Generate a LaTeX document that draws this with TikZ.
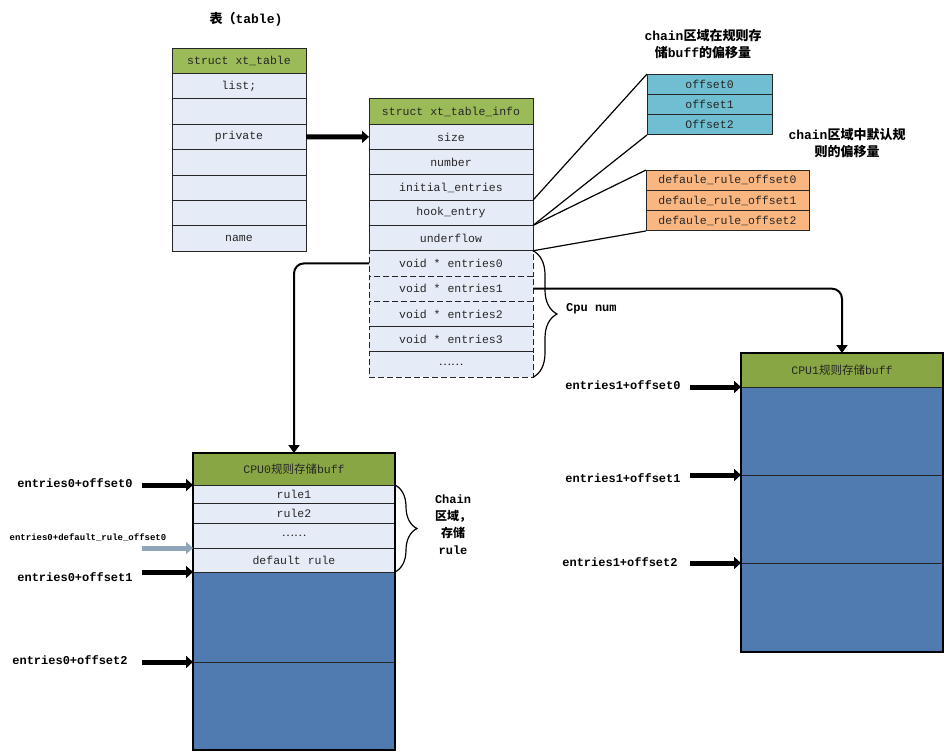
\documentclass[tikz,border=0pt]{standalone}
\usepackage{fontspec}
\setmonofont{Liberation Mono}
\newfontfamily\cjk{Noto Sans CJK SC}
\usepackage{tikz}
\usetikzlibrary{arrows.meta}
\usetikzlibrary{positioning}
\usetikzlibrary{decorations.pathreplacing}
\definecolor{headgreen}{RGB}{155,187,89}
\definecolor{cpugreen}{RGB}{137,166,68}
\definecolor{rowblue}{RGB}{230,236,247}
\definecolor{buffblue}{RGB}{79,123,176}
\definecolor{offblue}{RGB}{112,190,210}
\definecolor{offorange}{RGB}{250,182,128}
\definecolor{tailgray}{RGB}{145,165,188}
\tikzset{cell/.style = {draw = black!85, line width = 1pt, fill = rowblue,
                        inner sep = 0pt, outer sep = 0pt, text = black!85,
                        font = \ttfamily\fontsize{11.5}{12}\selectfont},
         xtrow/.style = {cell, minimum width = 134pt, minimum height = 25.4pt},
         inforow/.style = {cell, minimum width = 164pt, minimum height = 25.3pt},
         cpurow/.style = {cell, minimum width = 202pt},
         buffcell/.style = {cpurow, fill = buffblue},
         offrow/.style = {cell, fill = offblue, minimum width = 125pt, minimum height = 20.3pt},
         ruleoffrow/.style = {cell, fill = offorange, minimum width = 163pt, minimum height = 20.3pt},
         fat/.style = {line width = 5pt, -{Triangle[length = 7pt, width = 12pt]}},
         link/.style = {line width = 2pt, rounded corners = 10pt,
                        -{Triangle[length = 8pt, width = 11pt]}},
         lbl/.style = {inner sep = 0pt, font = \ttfamily\bfseries\fontsize{12}{13}\selectfont},
         title/.style = {inner sep = 0pt, align = center,
                         font = \ttfamily\bfseries\fontsize{13}{17}\selectfont},
         curly/.style = {decorate, decoration = {brace, amplitude = #1}, line width = 1.2pt}}

\begin{document}
\begin{tikzpicture}[x=1pt, y=-1pt]
    \path [fill = white, use as bounding box] (0, 0) rectangle (946, 753);

    % struct xt_table
    \node [title] (ttitle) at (246, 19) {{\cjk 表（}table)};
    \node [xtrow, fill = headgreen] (xt) at (239, 60.7) {struct xt\_table};
    \node [xtrow, below = 0pt of xt] (list) {list;};
    \node [xtrow, below = 0pt of list] (xta) {};
    \node [xtrow, below = 0pt of xta] (private) {private};
    \node [xtrow, below = 0pt of private] (xtb) {};
    \node [xtrow, below = 0pt of xtb] (xtc) {};
    \node [xtrow, below = 0pt of xtc] (xtd) {};
    \node [xtrow, below = 0pt of xtd] (name) {name};

    % struct xt_table_info
    \node [inforow, fill = headgreen] (info) at (451, 111.6) {struct xt\_table\_info};
    \node [inforow, below = 0pt of info] (size) {size};
    \node [inforow, below = 0pt of size] (number) {number};
    \node [inforow, below = 0pt of number] (ini) {initial\_entries};
    \node [inforow, below = 0pt of ini] (hook) {hook\_entry};
    \node [inforow, below = 0pt of hook] (under) {underflow};
    \node [inforow, dash pattern = on 6pt off 3pt, below = 0pt of under] (ent0) {void * entries0};
    \node [inforow, dash pattern = on 6pt off 3pt, below = 0pt of ent0] (ent1) {void * entries1};
    \node [inforow, dash pattern = on 6pt off 3pt, below = 0pt of ent1] (ent2) {void * entries2};
    \node [inforow, dash pattern = on 6pt off 3pt, below = 0pt of ent2] (ent3) {void * entries3};
    \node [inforow, dash pattern = on 6pt off 3pt, below = 0pt of ent3] (edots) {\cjk ……};

    % offsets
    \node [title] (offtitle) at (703, 44.5) {chain{\cjk 区域在规则存}\\{\cjk 储}buff{\cjk 的偏移量}};
    \node [offrow] (off0) at (709.5, 84.2) {offset0};
    \node [offrow, below = 0pt of off0] (off1) {offset1};
    \node [offrow, below = 0pt of off1] (off2) {Offset2};
    \node [title] (drtitle) at (847, 143.5) {chain{\cjk 区域中默认规}\\{\cjk 则的偏移量}};
    \node [ruleoffrow] (dr0) at (727.5, 180.2) {defaule\_rule\_offset0};
    \node [ruleoffrow, below = 0pt of dr0] (dr1) {defaule\_rule\_offset1};
    \node [ruleoffrow, below = 0pt of dr1] (dr2) {defaule\_rule\_offset2};

    \draw [line width = 1.2pt] (ini.south east) -- (off0.north west);
    \draw [line width = 1.2pt] (hook.south east) -- (off2.south west);
    \draw [line width = 1.2pt] (hook.south east) -- (dr0.north west);
    \draw [line width = 1.2pt] (under.south east) -- (dr2.south west);

    \draw [curly = 24pt] (ent0.north east) -- (edots.south east);
    \node [lbl, anchor = west] (cpunum) at (566, 309) {Cpu num};

    % CPU0 buff
    \node [cpurow, fill = cpugreen, minimum height = 32pt] (cpu0h) at (294, 469) {CPU0{\cjk 规则存储}buff};
    \node [cpurow, minimum height = 18pt, below = 0pt of cpu0h] (rule1) {rule1};
    \node [cpurow, minimum height = 20pt, below = 0pt of rule1] (rule2) {rule2};
    \node [cpurow, minimum height = 25pt, below = 0pt of rule2] (rdots) {\cjk ……};
    \node [cpurow, minimum height = 24pt, below = 0pt of rdots] (defrule) {default rule};
    \node [buffcell, minimum height = 90pt, below = 0pt of defrule] (b0a) {};
    \node [buffcell, minimum height = 88pt, below = 0pt of b0a] (b0b) {};
    \draw [line width = 1.6pt] (cpu0h.north west) rectangle (b0b.south east);

    \draw [curly = 22pt] (rule1.north east) -- (defrule.south east);
    \node [title, font = \ttfamily\bfseries\fontsize{12}{17}\selectfont] (chain) at (453, 525)
        {Chain\\{\cjk 区域，}\\{\cjk 存储}\\rule};

    \node [lbl] (e0o0) at (75, 483) {entries0+offset0};
    \node [lbl, font = \ttfamily\bfseries\fontsize{9}{10}\selectfont] (e0d0) at (88, 538) {entries0+default\_rule\_offset0};
    \node [lbl] (e0o1) at (75, 577) {entries0+offset1};
    \node [lbl] (e0o2) at (70, 660) {entries0+offset2};
    \coordinate (tail0) at (142, 0);
    \draw [fat] (tail0 |- rule1.north west) -- (rule1.north west);
    \draw [fat, draw = tailgray] (tail0 |- rdots.south west) -- (rdots.south west);
    \draw [fat] (tail0 |- b0a.north west) -- (b0a.north west);
    \draw [fat] (tail0 |- b0b.north west) -- (b0b.north west);

    % CPU1 buff
    \node [cpurow, fill = cpugreen, minimum height = 34pt] (cpu1h) at (842, 370) {CPU1{\cjk 规则存储}buff};
    \node [buffcell, minimum height = 88pt, below = 0pt of cpu1h] (b1a) {};
    \node [buffcell, minimum height = 88pt, below = 0pt of b1a] (b1b) {};
    \node [buffcell, minimum height = 89pt, below = 0pt of b1b] (b1c) {};
    \draw [line width = 1.6pt] (cpu1h.north west) rectangle (b1c.south east);

    \node [lbl] (e1o0) at (623, 385) {entries1+offset0};
    \node [lbl] (e1o1) at (623, 478) {entries1+offset1};
    \node [lbl] (e1o2) at (620, 562) {entries1+offset2};
    \coordinate (tail1) at (690, 0);
    \draw [fat] (tail1 |- b1a.north west) -- (b1a.north west);
    \draw [fat] (tail1 |- b1b.north west) -- (b1b.north west);
    \draw [fat] (tail1 |- b1c.north west) -- (b1c.north west);

    % pointers
    \draw [fat] (private.east) -- (size.west);
    \draw [link] (ent0.west) -| (cpu0h.north);
    \draw [link] (ent1.east) -| (cpu1h.north);
\end{tikzpicture}
\end{document}
